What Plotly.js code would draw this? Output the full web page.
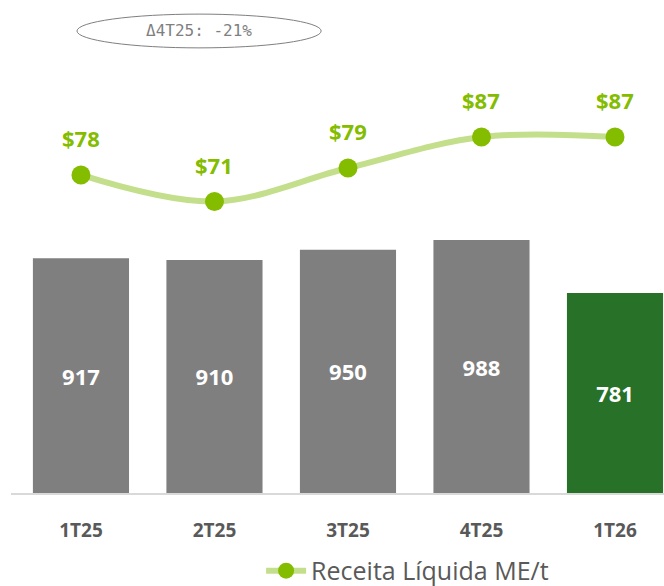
<!DOCTYPE html>
<html>
<head>
<meta charset="utf-8">
<script src="https://cdn.plot.ly/plotly-3.0.1.min.js"></script>
<style>html,body{margin:0;padding:0;background:#fff;}#chart{width:664px;height:586px;}</style>
</head>
<body>
<div id="chart"></div>
<script>
const categories = ['1T25', '2T25', '3T25', '4T25', '1T26'];
const volumes = [917, 910, 950, 988, 781];
const barColors = ['#7f7f7f', '#7f7f7f', '#7f7f7f', '#7f7f7f', '#277128'];
const revenuePerTon = [77.6, 71.1, 79.3, 86.9, 86.9];
const revenueLabels = ['$78', '$71', '$79', '$87', '$87'];
const seriesName = 'Receita Líquida ME/t';
const deltaLabel = 'Δ4T25: -21%';

const FONT = 'Open Sans, Noto Sans, sans-serif';
const GREEN = '#84bc00';

const bars = {
  type: 'bar',
  x: categories,
  y: volumes,
  marker: {color: barColors},
  text: volumes.map(String),
  textposition: 'inside',
  insidetextanchor: 'middle',
  textfont: {family: FONT, size: 22, color: '#ffffff', weight: 'bold'},
  showlegend: false,
  hoverinfo: 'skip'
};

const line = {
  type: 'scatter',
  mode: 'lines+markers',
  x: categories,
  y: revenuePerTon,
  yaxis: 'y2',
  name: seriesName,
  line: {color: '#c3df8c', width: 6, shape: 'spline', smoothing: 1},
  marker: {color: GREEN, size: 19},
  hoverinfo: 'skip'
};

const annotations = categories.map((c, i) => ({
  x: c, y: revenuePerTon[i], xref: 'x', yref: 'y2',
  xanchor: 'center', yanchor: 'middle',
  text: revenueLabels[i], showarrow: false, yshift: 37,
  font: {family: FONT, size: 22, color: GREEN, weight: 'bold'}
}));
annotations.push({
  xref: 'paper', yref: 'paper', x: 0.288, y: 1.067,
  xanchor: 'center', yanchor: 'middle',
  text: deltaLabel, showarrow: false,
  font: {family: 'DejaVu Sans Mono, monospace', size: 16, color: '#7f7f7f'}
});

const layout = {
  width: 664, height: 586,
  margin: {l: 11, r: 0, t: 60, b: 93, autoexpand: false},
  paper_bgcolor: '#ffffff', plot_bgcolor: '#ffffff',
  bargap: 0.28,
  xaxis: {
    type: 'category', range: [-0.524, 4.367],
    showline: true, linecolor: '#d9d9d9', linewidth: 2,
    showgrid: false, zeroline: false,
    ticks: 'outside', ticklen: 19, tickcolor: 'rgba(0,0,0,0)',
    tickfont: {family: FONT, size: 19, color: '#595959', weight: 'bold'},
    fixedrange: true
  },
  yaxis: {range: [0, 1691], visible: false, showgrid: false, zeroline: false},
  yaxis2: {range: [-0.23, 105.74], overlaying: 'y', visible: false, showgrid: false, zeroline: false},
  showlegend: true,
  legend: {
    orientation: 'h', x: 0.383, xanchor: 'left', y: -0.18, yanchor: 'middle',
    font: {family: FONT, size: 25, color: '#595959'},
    itemwidth: 40
  },
  shapes: [{
    type: 'circle', xref: 'paper', yref: 'paper',
    x0: 0.101, x1: 0.475, y0: 1.028, y1: 1.106,
    line: {color: '#7f7f7f', width: 1}, fillcolor: 'rgba(0,0,0,0)'
  }],
  annotations: annotations
};

Plotly.newPlot('chart', [bars, line], layout, {displayModeBar: false, staticPlot: true});
</script>
</body>
</html>
